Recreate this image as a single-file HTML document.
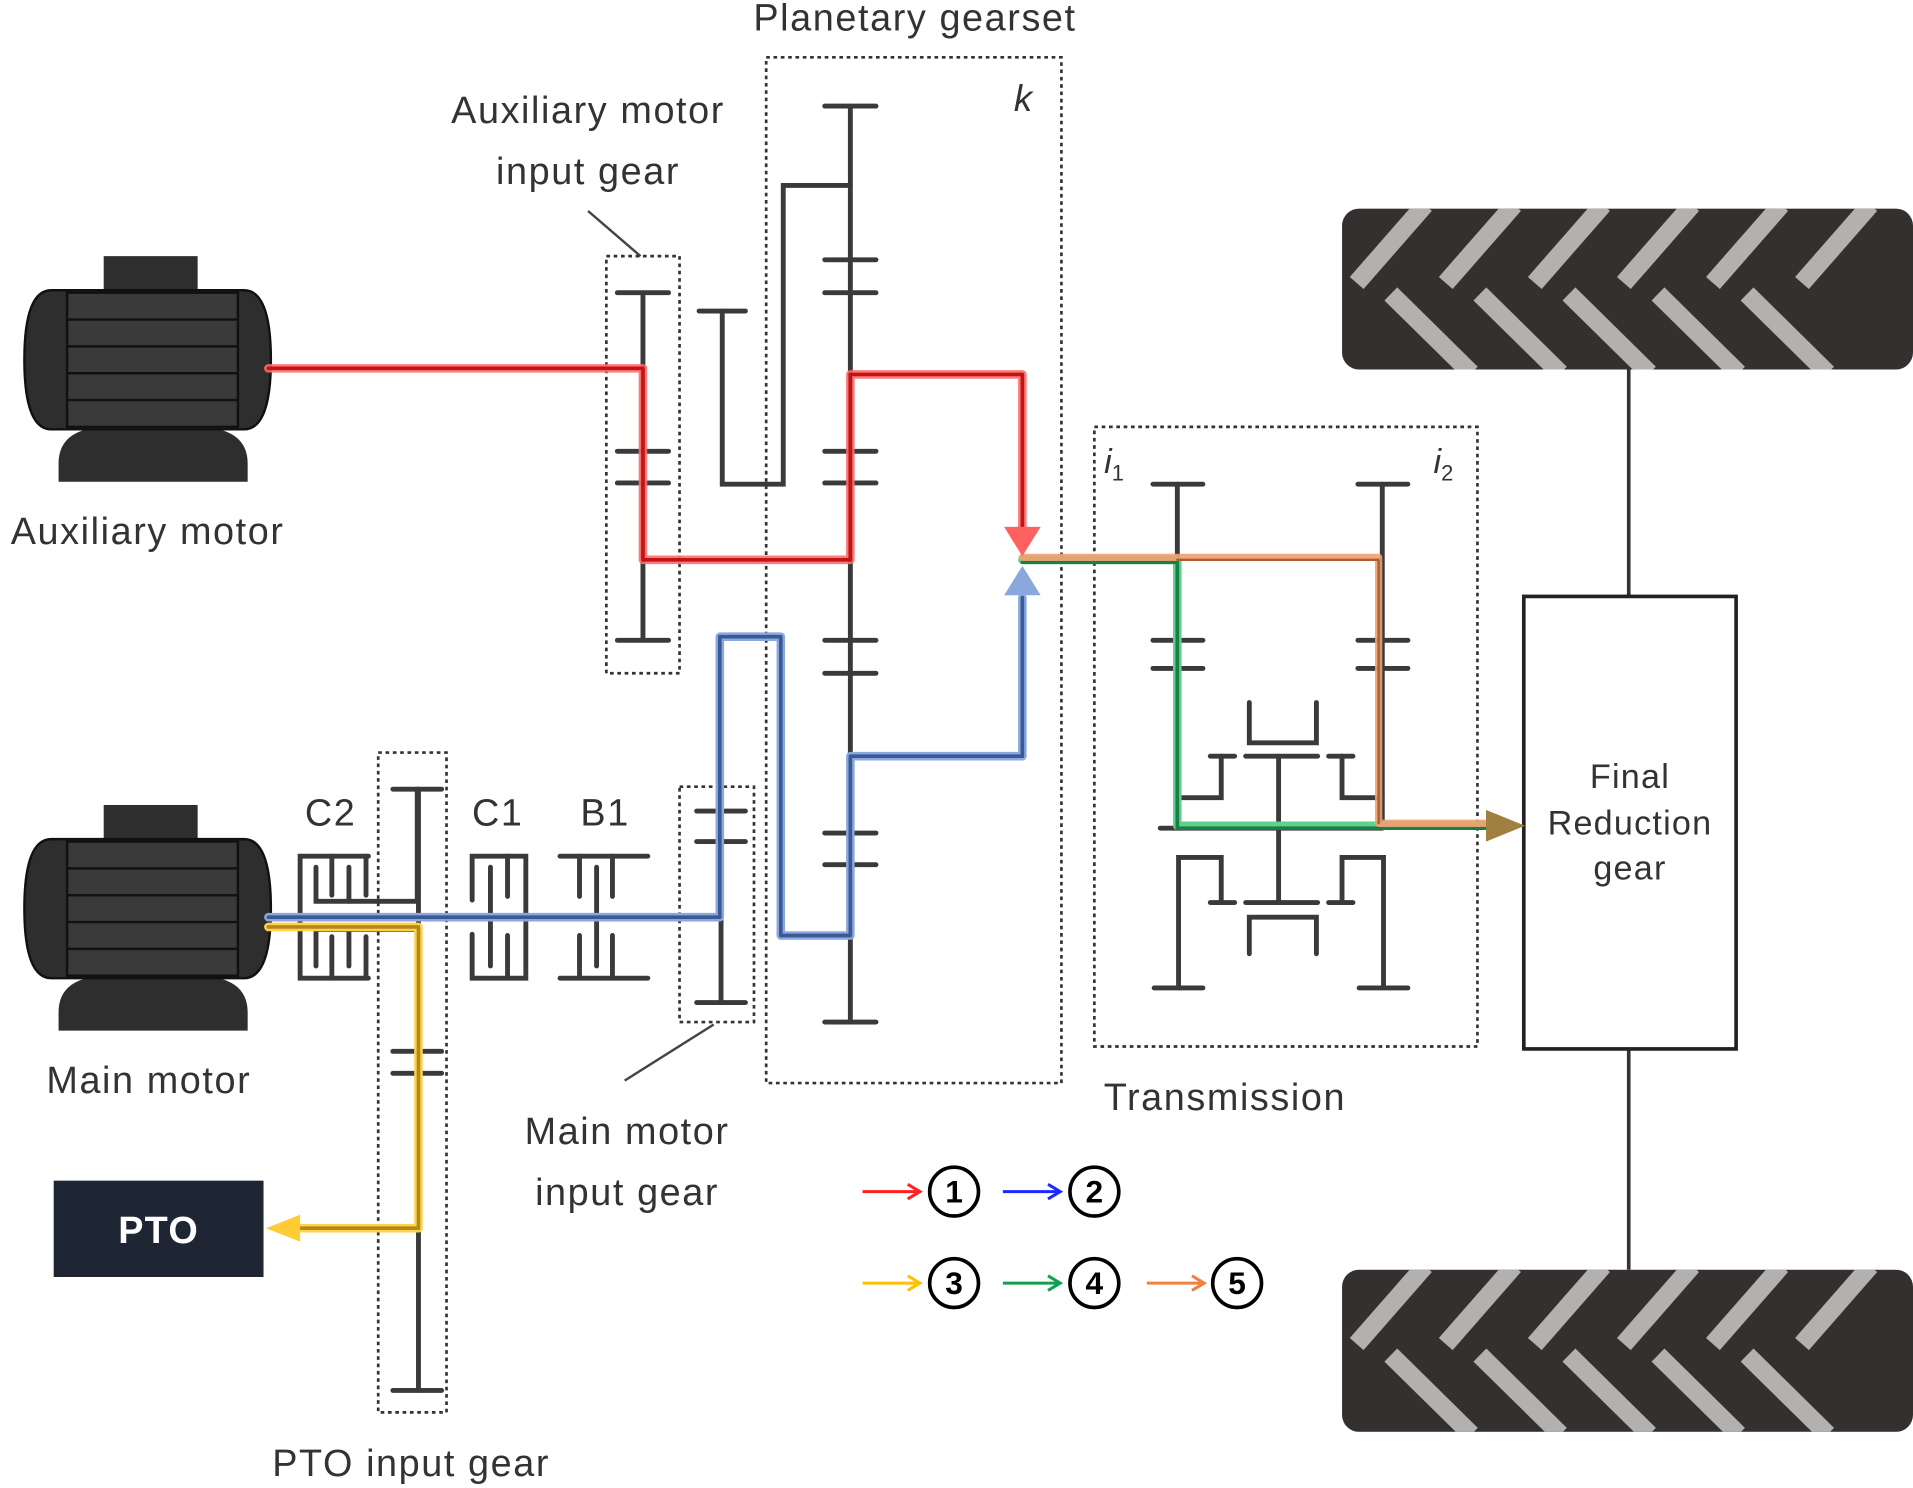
<!DOCTYPE html>
<html><head><meta charset="utf-8"><style>
html,body{margin:0;padding:0;background:#fff}
svg{display:block}
text{font-family:"Liberation Sans",sans-serif;fill:#333}
</style></head><body>
<svg width="1913" height="1488" viewBox="0 0 1568 1220" preserveAspectRatio="none" xmlns="http://www.w3.org/2000/svg">
<defs>
<clipPath id="w1"><rect x="1100" y="171" width="468" height="132" rx="14"/></clipPath>
<clipPath id="w2"><rect x="1100" y="1041" width="468" height="133" rx="14"/></clipPath>
<g id="motor">
 <rect x="85" y="0" width="77" height="30" fill="#2e2e2e"/>
 <path d="M48 170 Q48 140 90 140 L160 140 Q203 140 203 170 L203 185 L48 185Z" fill="#2e2e2e"/>
 <path d="M42 28 L200 28 Q222 28 222 85 Q222 142 200 142 L42 142 Q20 142 20 85 Q20 28 42 28Z" fill="#2e2e2e" stroke="#111" stroke-width="2"/>
 <rect x="55" y="30" width="140" height="110" fill="#3a3a3a" stroke="#111" stroke-width="2"/>
 <g stroke="#111" stroke-width="2"><line x1="55" y1="52" x2="195" y2="52"/><line x1="55" y1="74" x2="195" y2="74"/><line x1="55" y1="96" x2="195" y2="96"/><line x1="55" y1="118" x2="195" y2="118"/></g>
</g>
</defs>

<use href="#motor" x="0" y="210"/>
<use href="#motor" x="0" y="660"/>

<g clip-path="url(#w1)">
 <rect x="1100" y="171" width="468" height="132" fill="#343030"/>
 <g stroke="#b3b0b0" stroke-width="15">
  <line x1="1112" y1="232" x2="1168" y2="168"/><line x1="1185" y1="232" x2="1241" y2="168"/><line x1="1258" y1="232" x2="1314" y2="168"/><line x1="1331" y1="232" x2="1387" y2="168"/><line x1="1404" y1="232" x2="1460" y2="168"/><line x1="1477" y1="232" x2="1533" y2="168"/>
  <line x1="1140" y1="241" x2="1206" y2="306"/><line x1="1213" y1="241" x2="1279" y2="306"/><line x1="1286" y1="241" x2="1352" y2="306"/><line x1="1359" y1="241" x2="1425" y2="306"/><line x1="1432" y1="241" x2="1498" y2="306"/>
 </g>
</g>
<g clip-path="url(#w2)">
 <rect x="1100" y="1041" width="468" height="133" fill="#343030"/>
 <g stroke="#b3b0b0" stroke-width="15">
  <line x1="1112" y1="1102" x2="1168" y2="1038"/><line x1="1185" y1="1102" x2="1241" y2="1038"/><line x1="1258" y1="1102" x2="1314" y2="1038"/><line x1="1331" y1="1102" x2="1387" y2="1038"/><line x1="1404" y1="1102" x2="1460" y2="1038"/><line x1="1477" y1="1102" x2="1533" y2="1038"/>
  <line x1="1140" y1="1111" x2="1206" y2="1176"/><line x1="1213" y1="1111" x2="1279" y2="1176"/><line x1="1286" y1="1111" x2="1352" y2="1176"/><line x1="1359" y1="1111" x2="1425" y2="1176"/><line x1="1432" y1="1111" x2="1498" y2="1176"/>
 </g>
</g>
<g stroke="#333" stroke-width="3">
 <line x1="1335" y1="303" x2="1335" y2="489"/><line x1="1335" y1="860" x2="1335" y2="1041"/>
</g>
<rect x="1249" y="489" width="174" height="371" fill="#fff" stroke="#222" stroke-width="3"/>
<g font-size="28" text-anchor="middle" letter-spacing="1">
<text x="1336" y="646">Final</text>
<text x="1336" y="684">Reduction</text>
<text x="1336" y="721">gear</text>
</g>

<g fill="none" stroke="#333" stroke-width="2.2" stroke-dasharray="3 3">
 <rect x="497" y="210" width="60" height="342"/>
 <rect x="628" y="47" width="242" height="841"/>
 <rect x="897" y="350" width="314" height="508"/>
 <rect x="557" y="645" width="61" height="193"/>
 <rect x="310" y="617" width="56" height="541"/>
</g>
<g stroke="#444" stroke-width="2"><line x1="482" y1="173" x2="525" y2="210"/><line x1="512" y1="886" x2="585" y2="840"/></g>

<g stroke="#3a3a3a" stroke-width="4" fill="none" stroke-linecap="round">
 <line x1="527" y1="240" x2="527" y2="525"/>
 <line x1="506" y1="240" x2="548" y2="240"/><line x1="506" y1="370" x2="548" y2="370"/><line x1="506" y1="396" x2="548" y2="396"/><line x1="506" y1="525" x2="548" y2="525"/>
 <line x1="573" y1="255" x2="611" y2="255"/><polyline points="592,255 592,397 642,397 642,152 697,152"/>
 <line x1="697" y1="87" x2="697" y2="838"/>
 <line x1="676" y1="87" x2="718" y2="87"/><line x1="676" y1="213" x2="718" y2="213"/><line x1="676" y1="240" x2="718" y2="240"/><line x1="676" y1="370" x2="718" y2="370"/><line x1="676" y1="396" x2="718" y2="396"/><line x1="676" y1="525" x2="718" y2="525"/><line x1="676" y1="552" x2="718" y2="552"/><line x1="676" y1="683" x2="718" y2="683"/><line x1="676" y1="709" x2="718" y2="709"/><line x1="676" y1="838" x2="718" y2="838"/>
 <line x1="591" y1="665" x2="591" y2="822"/><line x1="571" y1="665" x2="611" y2="665"/><line x1="571" y1="690" x2="611" y2="690"/><line x1="571" y1="822" x2="611" y2="822"/>
 <line x1="343" y1="647" x2="343" y2="1140"/><line x1="322" y1="647" x2="362" y2="647"/><line x1="322" y1="862" x2="362" y2="862"/><line x1="322" y1="880" x2="362" y2="880"/><line x1="322" y1="1140" x2="362" y2="1140"/>
 <polyline points="302,702 246,702 246,802 302,802"/>
 <polyline points="259,711 259,739 342,739 342,647"/><line x1="286" y1="711" x2="286" y2="739"/><line x1="272" y1="702" x2="272" y2="734"/><line x1="300" y1="702" x2="300" y2="734"/>
 <polyline points="259,792 259,762 342,762"/><line x1="286" y1="762" x2="286" y2="792"/><line x1="272" y1="802" x2="272" y2="768"/><line x1="300" y1="802" x2="300" y2="768"/>
 <polyline points="387,738 387,702 431,702 431,802 387,802 387,766"/>
 <line x1="402" y1="711" x2="402" y2="792"/><line x1="416" y1="702" x2="416" y2="735"/><line x1="416" y1="767" x2="416" y2="802"/>
 <line x1="459" y1="702" x2="531" y2="702"/><line x1="459" y1="802" x2="531" y2="802"/>
 <line x1="475" y1="702" x2="475" y2="735"/><line x1="502" y1="702" x2="502" y2="735"/><line x1="475" y1="802" x2="475" y2="767"/><line x1="502" y1="802" x2="502" y2="767"/><line x1="489" y1="711" x2="489" y2="792"/>
 <line x1="965" y1="397" x2="965" y2="679"/><line x1="945" y1="397" x2="986" y2="397"/><line x1="945" y1="525" x2="986" y2="525"/><line x1="945" y1="548" x2="986" y2="548"/>
 <line x1="1133" y1="397" x2="1133" y2="679"/><line x1="1113" y1="397" x2="1154" y2="397"/><line x1="1113" y1="525" x2="1154" y2="525"/><line x1="1113" y1="548" x2="1154" y2="548"/>
 <polyline points="1024,576 1024,609 1079,609 1079,576"/>
 <line x1="1021" y1="620" x2="1080" y2="620"/><line x1="1048" y1="620" x2="1048" y2="740"/>
 <line x1="992" y1="620" x2="1012" y2="620"/><polyline points="1001,620 1001,654 965,654"/>
 <line x1="1089" y1="620" x2="1109" y2="620"/><polyline points="1100,620 1100,654 1133,654"/>
 <line x1="951" y1="679" x2="1133" y2="679"/>
 <polyline points="966,810 966,703 1001,703 1001,740"/><line x1="992" y1="740" x2="1012" y2="740"/><line x1="946" y1="810" x2="986" y2="810"/>
 <line x1="1021" y1="740" x2="1080" y2="740"/><polyline points="1024,782 1024,752 1079,752 1079,782"/>
 <polyline points="1134,810 1134,703 1100,703 1100,740"/><line x1="1089" y1="740" x2="1109" y2="740"/><line x1="1114" y1="810" x2="1154" y2="810"/>
</g>

<g fill="none" stroke-linejoin="round" stroke-linecap="round">
 <polyline points="220,302 527,302 527,459 697,459 697,307 838,307 838,440" stroke="#ff6b6b" stroke-width="7" opacity="0.9"/>
 <polyline points="220,302 527,302 527,459 697,459 697,307 838,307 838,440" stroke="#c01515" stroke-width="3"/>
 <polyline points="220,752 590,752 590,522 640,522 640,767 697,767 697,620 838,620 838,490" stroke="#8aa8dd" stroke-width="7"/>
 <polyline points="220,752 590,752 590,522 640,522 640,767 697,767 697,620 838,620 838,490" stroke="#3b5a95" stroke-width="3"/>
 <polyline points="220,760 343,760 343,1007 240,1007" stroke="#ffd24d" stroke-width="7"/>
 <polyline points="220,760 343,760 343,1007 240,1007" stroke="#b38a1a" stroke-width="3"/>
 <polyline points="838,459 965,459 965,677 1225,677" stroke="#5fd08f" stroke-width="7"/>
 <polyline points="838,461 965,461 965,679 1225,679" stroke="#1a7f45" stroke-width="3"/>
 <polyline points="838,457 1130,457 1130,675 1225,675" stroke="#f0a070" stroke-width="6" opacity="0.9"/>
 <polyline points="965,459 1130,459 1130,675" stroke="#a86030" stroke-width="2"/>
</g>
<polygon points="823,432 853,432 838,456" fill="#ff6060"/>
<polygon points="823,488 853,488 838,464" fill="#8aa8dd"/>
<polygon points="218,1007 246,996 246,1018" fill="#ffcc33"/>
<polygon points="1250,677 1218,664 1218,690" fill="#a08040"/>

<rect x="44" y="968" width="172" height="79" fill="#1f2633"/>
<text x="130" y="1019" font-size="31" font-weight="bold" text-anchor="middle" letter-spacing="1" style="fill:#fff">PTO</text>

<g font-size="31" text-anchor="middle" letter-spacing="1.3">
<text x="750" y="25">Planetary gearset</text>
<text x="482" y="101">Auxiliary  motor</text>
<text x="482" y="151">input  gear</text>
<text x="121" y="446">Auxiliary  motor</text>
<text x="122" y="896">Main motor</text>
<text x="271" y="677">C2</text>
<text x="408" y="677">C1</text>
<text x="496" y="677">B1</text>
<text x="514" y="938">Main motor</text>
<text x="514" y="988">input  gear</text>
<text x="1004" y="910">Transmission</text>
<text x="337" y="1210">PTO input gear</text>
</g>
<text x="831" y="91" font-size="30" font-style="italic" font-family="Liberation Serif">k</text>
<text x="905" y="388" font-size="28" font-style="italic" font-family="Liberation Serif">i<tspan font-size="18" font-style="normal" dy="6">1</tspan></text>
<text x="1175" y="388" font-size="28" font-style="italic" font-family="Liberation Serif">i<tspan font-size="18" font-style="normal" dy="6">2</tspan></text>

<g stroke-width="2.5" fill="none">
 <line x1="707" y1="977" x2="752" y2="977" stroke="#ff2020"/><polyline points="744,971 754,977 744,983" stroke="#ff2020"/>
 <line x1="822" y1="977" x2="867" y2="977" stroke="#1a2aff"/><polyline points="859,971 869,977 859,983" stroke="#1a2aff"/>
 <line x1="707" y1="1052" x2="752" y2="1052" stroke="#ffc000"/><polyline points="744,1046 754,1052 744,1058" stroke="#ffc000"/>
 <line x1="822" y1="1052" x2="867" y2="1052" stroke="#10a050"/><polyline points="859,1046 869,1052 859,1058" stroke="#10a050"/>
 <line x1="940" y1="1052" x2="985" y2="1052" stroke="#f08040"/><polyline points="977,1046 987,1052 977,1058" stroke="#f08040"/>
 <g stroke="#000" stroke-width="3"><circle cx="782" cy="977" r="20"/><circle cx="897" cy="977" r="20"/><circle cx="782" cy="1052" r="20"/><circle cx="897" cy="1052" r="20"/><circle cx="1014" cy="1052" r="20"/></g>
</g>
<g font-size="26" font-weight="bold" text-anchor="middle">
 <text x="782" y="986" style="fill:#000">1</text><text x="897" y="986" style="fill:#000">2</text><text x="782" y="1061" style="fill:#000">3</text><text x="897" y="1061" style="fill:#000">4</text><text x="1014" y="1061" style="fill:#000">5</text>
</g>
</svg>
</body></html>
